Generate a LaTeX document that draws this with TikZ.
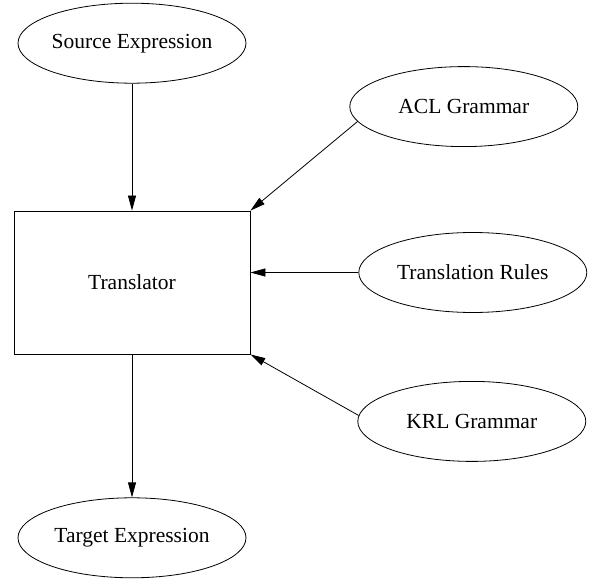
\documentclass[tikz,border=0pt]{standalone}
\usepackage{fontspec}
\setmainfont{Liberation Serif}
\usetikzlibrary{arrows.meta,shapes.geometric,positioning}
\tikzset{
  procbox/.style={draw, rectangle, minimum width=236bp, minimum height=143bp,
                  inner sep=0pt, line width=0.8bp},
  databox/.style={draw, ellipse, minimum width=228bp, minimum height=80bp,
                  inner sep=0pt, line width=0.8bp},
  arr/.style    ={-{Triangle[length=15bp,width=8bp]}, line width=0.8bp},
}
\begin{document}
\begin{tikzpicture}[font=\fontsize{21.5bp}{26bp}\selectfont]
  \useasboundingbox (-132bp,-299.5bp) rectangle (457bp,282.5bp);
  \node[procbox] (trans) {Translator};

  \node[databox, above=127bp of trans] (src) {Source Expression};
  \node[databox, below=143bp of trans] (tgt) {Target Expression};

  \node[databox, right=99bp of trans.north east, yshift=104bp] (acl)
        {ACL Grammar};
  \node[databox, right=108bp of trans.east, yshift=10bp] (rules)
        {Translation Rules};
  \node[databox, right=107bp of trans.south east, yshift=-67bp] (krl)
        {KRL Grammar};

  \draw[arr](src)--(trans);\draw[arr](trans)--(tgt);
  \draw[arr](acl.188)--(trans.north east);
  \draw[arr](rules.west)--(rules.west -| trans.east);
  \draw[arr](krl.177)--(trans.south east);
\end{tikzpicture}
\end{document}
